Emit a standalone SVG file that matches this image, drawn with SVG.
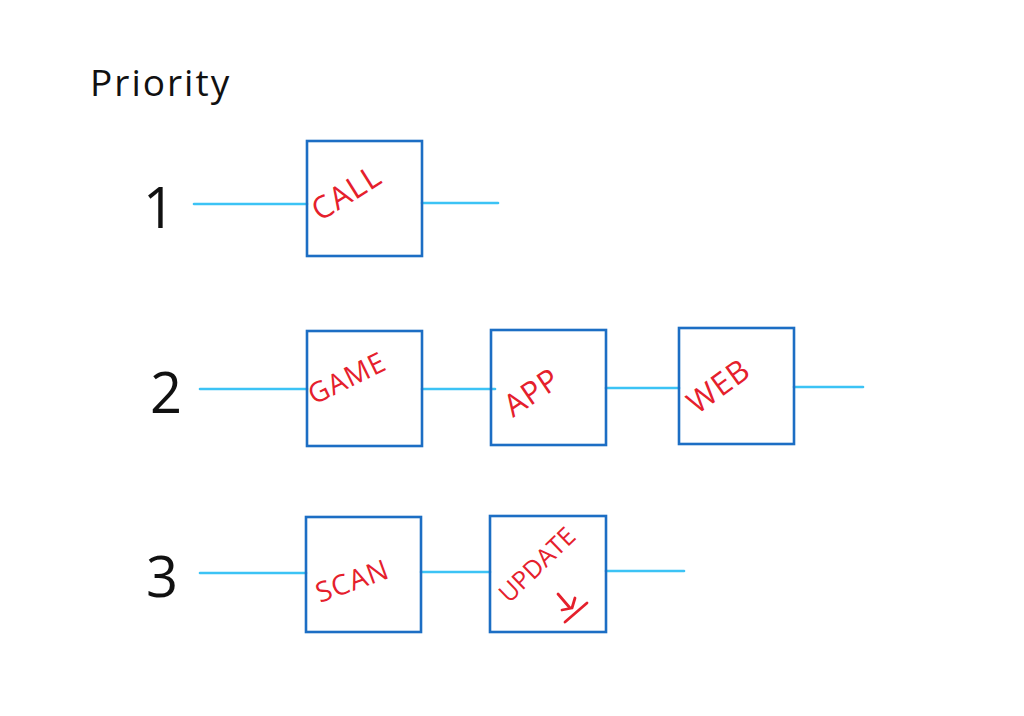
<svg xmlns="http://www.w3.org/2000/svg" width="1024" height="716" viewBox="0 0 1024 716">
<style>
.box{fill:none;stroke:#1c6ec4;stroke-width:2.6}
.ln{stroke:#3cc3f5;stroke-width:2.6;fill:none;stroke-linecap:round}
.lbl{font-family:"Open Sans","Liberation Sans",sans-serif;fill:#e5202c;font-size:31px;letter-spacing:1px}
.num{font-family:"Open Sans","Liberation Sans",sans-serif;fill:#111;font-size:56px}
.title{font-family:"Open Sans","Liberation Sans",sans-serif;fill:#111;font-size:37px;letter-spacing:2px}
</style>
<rect width="1024" height="716" fill="#fff"/>
<text class="title" x="90" y="96">Priority</text>
<g id="labels">
<text class="num" x="143" y="228">1</text>
<text class="num" x="150" y="413">2</text>
<text class="num" x="146" y="597">3</text>
</g>
<g id="connectors">
<line class="ln" x1="194" y1="204" x2="307" y2="204"/>
<line class="ln" x1="422" y1="203" x2="498" y2="203"/>
<line class="ln" x1="200" y1="389" x2="307" y2="389"/>
<line class="ln" x1="422" y1="389" x2="495" y2="389"/>
<line class="ln" x1="606" y1="388" x2="679" y2="388"/>
<line class="ln" x1="794" y1="387" x2="863" y2="387"/>
<line class="ln" x1="200" y1="573" x2="306" y2="573"/>
<line class="ln" x1="421" y1="572" x2="490" y2="572"/>
<line class="ln" x1="606" y1="571" x2="684" y2="571"/>
</g>
<g id="call">
<rect class="box" x="307" y="141" width="115" height="115"/>
<text class="lbl" transform="translate(320,222) rotate(-32)">CALL</text>
</g>
<g id="game">
<rect class="box" x="307" y="331" width="115" height="115"/>
<text class="lbl" style="font-size:28px" transform="translate(314,405) rotate(-26)">GAME</text>
</g>
<g id="app">
<rect class="box" x="491" y="330" width="115" height="115"/>
<text class="lbl" transform="translate(513,418) rotate(-34)">APP</text>
</g>
<g id="web">
<rect class="box" x="679" y="328" width="115" height="116"/>
<text class="lbl" transform="translate(697,415) rotate(-36)">WEB</text>
</g>
<g id="scan">
<rect class="box" x="306" y="517" width="115" height="115"/>
<text class="lbl" style="font-size:28px" transform="translate(320,603) rotate(-20)">SCAN</text>
</g>
<g id="update">
<rect class="box" x="490" y="516" width="116" height="116"/>
<text class="lbl" style="font-size:25px;letter-spacing:0" transform="translate(509,604) rotate(-44)">UPDATE</text>
<path d="M558 594 L570 608 M562 610 L572 608 L575 598 M565 622 L587 603" fill="none" stroke="#e5202c" stroke-width="2.8" stroke-linecap="round" stroke-linejoin="round"/>
</g>
</svg>
